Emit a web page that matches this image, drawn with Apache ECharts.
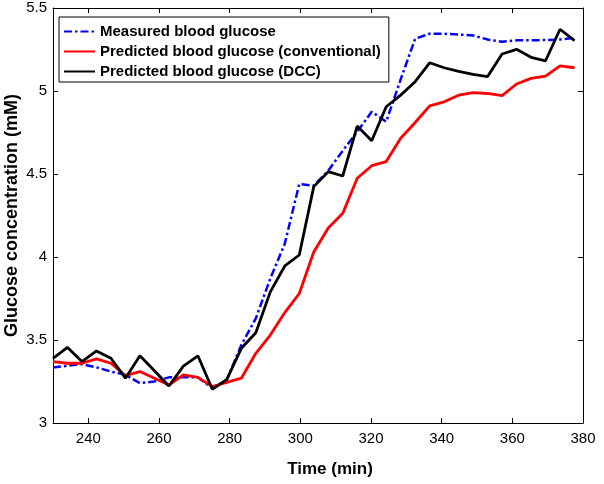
<!DOCTYPE html>
<html>
<head>
<meta charset="utf-8">
<script src="https://cdn.jsdelivr.net/npm/echarts@6/dist/echarts.min.js"></script>
<style>html,body{margin:0;padding:0;background:#fff;}#c{width:604px;height:484px;}</style>
</head>
<body>
<div id="c"></div>
<script>
var times = [230, 234.1, 238.2, 242.3, 246.4, 250.5, 254.6, 258.7, 262.8, 266.9, 271, 275.1, 279.2, 283.3, 287.4, 291.5, 295.6, 299.7, 303.8, 307.9, 312, 316.1, 320.2, 324.3, 328.4, 332.5, 336.6, 340.7, 344.8, 348.9, 353, 357.1, 361.2, 365.3, 369.4, 373.5, 377.6];
var measured = [3.335, 3.345, 3.355, 3.335, 3.31, 3.29, 3.24, 3.25, 3.275, 3.275, 3.275, 3.21, 3.26, 3.47, 3.63, 3.87, 4.08, 4.44, 4.43, 4.52, 4.64, 4.755, 4.875, 4.815, 5.07, 5.315, 5.345, 5.345, 5.34, 5.335, 5.31, 5.297, 5.305, 5.305, 5.307, 5.31, 5.32];
var conventional = [3.37, 3.36, 3.36, 3.386, 3.36, 3.285, 3.31, 3.27, 3.229, 3.29, 3.275, 3.22, 3.245, 3.27, 3.42, 3.53, 3.665, 3.78, 4.03, 4.175, 4.263, 4.474, 4.55, 4.575, 4.715, 4.81, 4.91, 4.935, 4.975, 4.99, 4.985, 4.972, 5.042, 5.076, 5.09, 5.151, 5.14];
var dcc = [3.39, 3.455, 3.37, 3.434, 3.39, 3.27, 3.405, 3.315, 3.223, 3.343, 3.405, 3.203, 3.263, 3.45, 3.544, 3.79, 3.946, 4.012, 4.424, 4.514, 4.488, 4.789, 4.70, 4.905, 4.975, 5.056, 5.17, 5.14, 5.118, 5.10, 5.087, 5.223, 5.251, 5.203, 5.182, 5.372, 5.303];
var xTicks = [240, 260, 280, 300, 320, 340, 360, 380];
var seriesNames = ['Measured blood glucose', 'Predicted blood glucose (conventional)', 'Predicted blood glucose (DCC)'];

function pairs(vals) { return times.map(function (t, i) { return [t, vals[i]]; }); }

var FONT = "'Liberation Sans', Arial, Helvetica, sans-serif";
var chart = echarts.init(document.getElementById('c'), null, { renderer: 'canvas' });
var axisLine = { show: true, lineStyle: { color: '#000', width: 1 } };
var tickStyle = { show: true, inside: true, length: 5, lineStyle: { color: '#000', width: 1 } };

chart.setOption({
  animation: false,
  backgroundColor: '#fff',
  grid: { left: 53, right: 21, top: 8, bottom: 61, containLabel: false, outerBoundsMode: 'none' },
  legend: {
    orient: 'vertical',
    left: 59, top: 17,
    padding: [7, 8, 3, 4],
    itemGap: 5,
    itemWidth: 31, itemHeight: 14,
    borderColor: '#000', borderWidth: 1,
    backgroundColor: '#fff',
    itemStyle: { opacity: 0 },
    textStyle: { fontFamily: FONT, fontWeight: 'bold', fontSize: 15, color: '#000' },
    data: seriesNames
  },
  xAxis: [{
    type: 'value', min: 230, max: 380, position: 'bottom',
    axisLine: axisLine,
    axisTick: Object.assign({}, tickStyle, { customValues: xTicks }),
    axisLabel: { customValues: xTicks, fontFamily: FONT, fontSize: 15, color: '#000', margin: 8 },
    splitLine: { show: false },
    name: 'Time (min)', nameLocation: 'middle', nameGap: 38, nameMoveOverlap: false,
    nameTextStyle: { fontFamily: FONT, fontWeight: 'bold', fontSize: 17, color: '#000', padding: [0, 0, 0, 24] }
  }, {
    type: 'value', min: 230, max: 380, position: 'top',
    axisLine: axisLine,
    axisTick: Object.assign({}, tickStyle, { customValues: xTicks }),
    axisLabel: { show: false },
    splitLine: { show: false }
  }],
  yAxis: [{
    type: 'value', min: 3, max: 5.5, interval: 0.5, position: 'left',
    axisLine: axisLine,
    axisTick: tickStyle,
    axisLabel: { fontFamily: FONT, fontSize: 15, color: '#000', margin: 6 },
    splitLine: { show: false },
    name: 'Glucose concentration (mM)', nameLocation: 'middle', nameGap: 32, nameMoveOverlap: false,
    nameTextStyle: { fontFamily: FONT, fontWeight: 'bold', fontSize: 18, color: '#000' }
  }, {
    type: 'value', min: 3, max: 5.5, interval: 0.5, position: 'right',
    axisLine: axisLine,
    axisTick: tickStyle,
    axisLabel: { show: false },
    splitLine: { show: false }
  }],
  series: [{
    name: seriesNames[0], type: 'line', data: pairs(measured), symbol: 'none',
    lineStyle: { color: '#0000ff', width: 2.5, type: [8, 3, 2.5, 3] }, itemStyle: { color: '#0000ff' }
  }, {
    name: seriesNames[1], type: 'line', data: pairs(conventional), symbol: 'none',
    lineStyle: { color: '#ff0000', width: 2.8 }, itemStyle: { color: '#ff0000' }
  }, {
    name: seriesNames[2], type: 'line', data: pairs(dcc), symbol: 'none',
    lineStyle: { color: '#000000', width: 2.8 }, itemStyle: { color: '#000000' }
  }]
});
</script>
</body>
</html>
